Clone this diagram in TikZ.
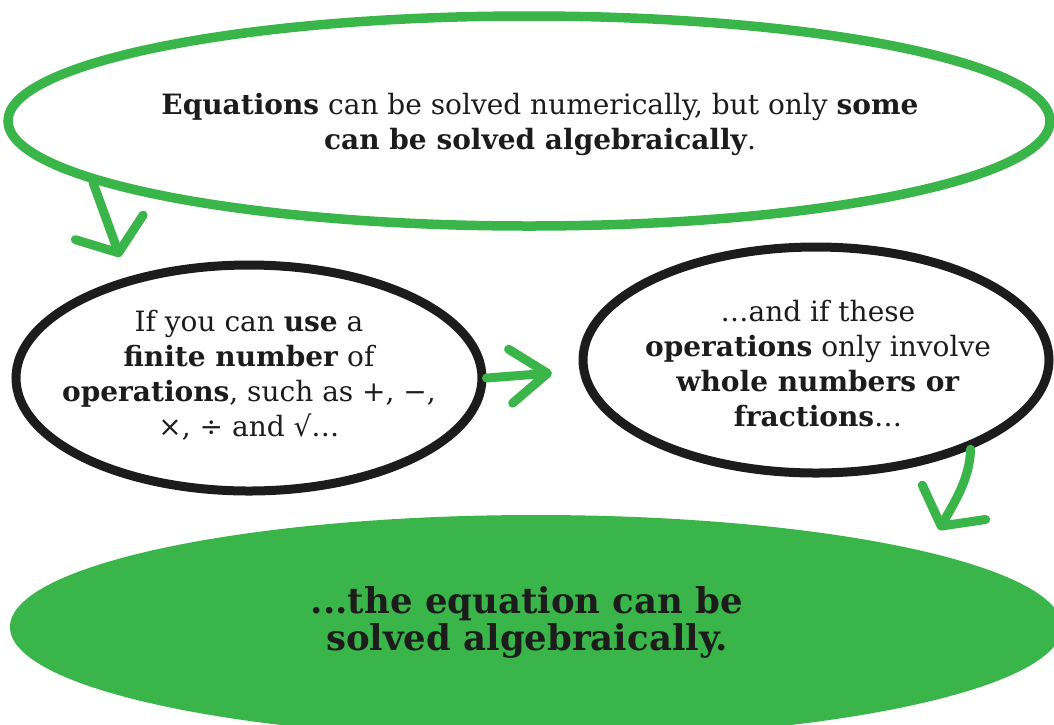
\documentclass[tikz,border=0pt]{standalone}
\usepackage{fontspec}
\setmainfont{DejaVu Serif}
\usetikzlibrary{shapes.geometric,arrows.meta,calc}
\definecolor{grn}{RGB}{58,181,74}
\definecolor{ink}{RGB}{28,28,28}
\begin{document}
\begin{tikzpicture}[x=1pt,y=-1pt,
  greenring/.style={ellipse,draw=grn,line width=9.5pt,inner sep=0pt},
  blackring/.style={ellipse,draw=ink,line width=9pt,inner sep=0pt},
  greenblob/.style={ellipse,fill=grn,draw=none,inner sep=0pt},
  txt/.style={align=center,text=ink,font=\fontsize{28}{35}\selectfont},
  bigtxt/.style={align=center,text=ink,font=\fontsize{35.5}{37}\selectfont\bfseries},
  arr/.style={draw=grn,line width=9pt,line cap=round,line join=round},
  widehead/.style={-{Straight Barb[length=27pt,width=72pt,line width=9pt,round]}},
  narrowhead/.style={-{Straight Barb[length=37pt,width=54pt,line width=9pt,round]}}
]
\useasboundingbox (0,0) rectangle (1054,724);
\begin{scope}
\clip (0,0) rectangle (1054,724);
\node[greenring,minimum width=1042pt,minimum height=210pt] (top) at (529,121) {};
\node[blackring,minimum width=466pt,minimum height=226pt] (left) at (249,378) {};
\node[blackring,minimum width=466pt,minimum height=226pt] (right) at (816,360) {};
\node[greenblob,minimum width=1052pt,minimum height=224pt] (bottom) at (536,627) {};

\coordinate (tip1) at (120,257);
\coordinate (tip2) at (552,373);
\coordinate (tip3) at (939,530);
\draw[arr,widehead] (top.188) -- (tip1);
\draw[arr,narrowhead] (left.east) -- (tip2);
\draw[arr,widehead] (right.330) .. controls (970,480) and (952,506) .. (tip3);

\node[txt] (t1) at (540,124) {\textbf{Equations} can be solved numerically, but only \textbf{some}\\ \textbf{can be solved algebraically}.};
\node[txt] (t2) at (249,375) {If you can \textbf{use} a\\ \textbf{finite number} of\\ \textbf{operations}, such as +, −,\\ ×, ÷ and √…};
\node[txt] (t3) at (818,364) {…and if these\\ \textbf{operations} only involve\\ \textbf{whole numbers or}\\ \textbf{fractions}…};
\node[bigtxt] (t4) at (527,622) {...the equation can be\\ solved algebraically.};
\end{scope}
\end{tikzpicture}
\end{document}
